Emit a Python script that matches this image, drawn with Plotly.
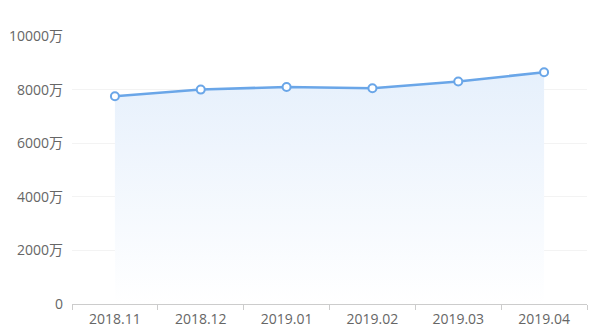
import plotly.graph_objects as go

categories = ["2018.11", "2018.12", "2019.01", "2019.02", "2019.03", "2019.04"]
values = [7750, 8000, 8100, 8050, 8300, 8650]
y_tickvals = [0, 2000, 4000, 6000, 8000, 10000]
y_ticktext = ["0", "2000万", "4000万", "6000万", "8000万", "10000万"]

font_family = "Open Sans, Noto Sans CJK SC, sans-serif"

fig = go.Figure()
fig.add_trace(go.Scatter(
    x=categories, y=values,
    mode="lines+markers",
    line=dict(color="#6aa6e8", width=2.5),
    marker=dict(size=8, color="white", line=dict(color="#6aa6e8", width=2)),
    fill="tozeroy",
    fillgradient=dict(type="vertical",
                      colorscale=[[0, "rgba(255,255,255,1)"], [1, "rgba(230,240,252,1)"]]),
    hoverinfo="x+y",
))

fig.update_layout(
    width=600, height=336,
    margin=dict(l=72, r=13, t=36, b=32),
    paper_bgcolor="white", plot_bgcolor="white",
    showlegend=False,
    font=dict(family=font_family, size=14, color="#666666"),
    xaxis=dict(
        type="category", range=[-0.5, 5.5], automargin=False,
        showgrid=False, showline=True, linecolor="#cccccc", linewidth=1,
        ticks="outside", tickson="boundaries", ticklen=5, tickcolor="#cccccc",
        ticklabelstandoff=2,
        tickfont=dict(size=14, color="#666666"),
        fixedrange=True,
    ),
    yaxis=dict(
        range=[0, 10000], tickvals=y_tickvals, ticktext=y_ticktext, automargin=False,
        showgrid=True, gridcolor="#f3f3f3", gridwidth=1,
        zeroline=False, showline=False, ticks="",
        ticklabelstandoff=8,
        tickfont=dict(size=14, color="#666666"),
        fixedrange=True,
    ),
)

fig.write_html("out.html")
